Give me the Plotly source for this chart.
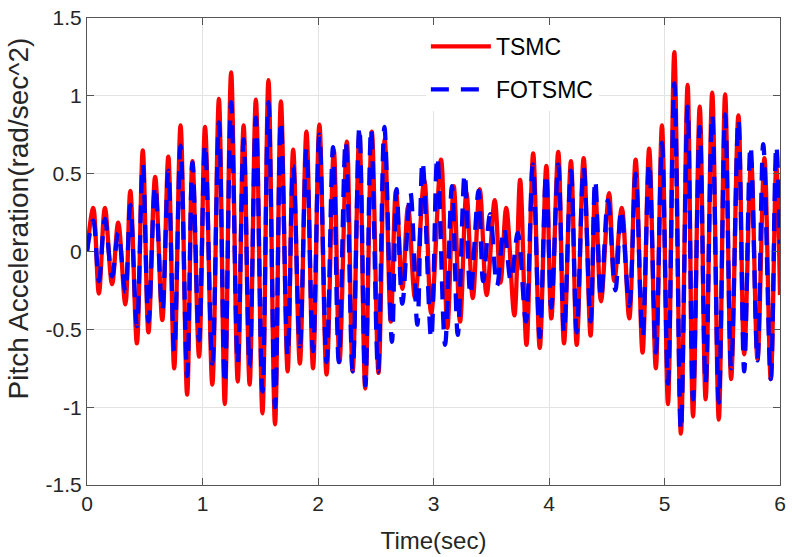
import plotly.graph_objects as go

# ---- data (extrema) ----
t_tsmc = [0.0, 0.054, 0.103, 0.155, 0.217, 0.27, 0.332, 0.375, 0.432, 0.483, 0.532, 0.59, 0.652, 0.704, 0.755, 0.81, 0.867, 0.913, 0.97, 1.022,
          1.085, 1.142, 1.193, 1.248, 1.305, 1.356, 1.408, 1.462, 1.519, 1.571, 1.628, 1.679, 1.737, 1.785, 1.843, 1.9, 1.957, 2.012,
          2.074, 2.137, 2.186, 2.25, 2.30, 2.358, 2.409, 2.466, 2.524, 2.578, 2.63, 2.675, 2.73, 2.78, 2.84, 2.92, 2.98, 3.065,
          3.12, 3.175, 3.23, 3.285, 3.34, 3.40, 3.46, 3.53, 3.58, 3.63, 3.70, 3.75, 3.805, 3.863, 3.92, 3.977,
          4.02, 4.08, 4.13, 4.19, 4.24, 4.30, 4.36, 4.40, 4.45, 4.52, 4.565, 4.63, 4.695, 4.75, 4.81, 4.867, 4.925, 4.978,
          5.03, 5.085, 5.142, 5.20, 5.247, 5.305, 5.356, 5.413, 5.47, 5.525, 5.577, 5.64, 5.69, 5.75, 5.805, 5.865, 5.92, 5.968, 6.0]
v_tsmc = [0.0, 0.28, -0.27, 0.28, -0.21, 0.185, -0.34, 0.39, -0.59, 0.65, -0.52, 0.48, -0.44, 0.61, -0.75, 0.81, -0.92, 0.58, -0.675, 0.80,
          -0.855, 0.98, -0.98, 1.15, -0.835, 0.81, -0.855, 0.975, -1.04, 1.10, -1.11, 0.965, -0.77, 0.655, -0.72, 0.77, -0.75, 0.815,
          -0.79, 0.65, -0.71, 0.705, -0.77, 0.76, -0.88, 0.77, -0.78, 0.72, -0.45, 0.39, -0.24, 0.29, -0.30, 0.46, -0.40, 0.59,
          -0.49, 0.42, -0.45, 0.38, -0.30, 0.40, -0.28, 0.33, -0.20, 0.28, -0.41, 0.46, -0.60, 0.63, -0.62, 0.55,
          -0.43, 0.64, -0.59, 0.58, -0.60, 0.60, -0.54, 0.40, -0.32, 0.375, -0.19, 0.28, -0.43, 0.59, -0.65, 0.66, -0.75, 0.81,
          -0.98, 1.28, -1.17, 1.07, -1.06, 0.93, -0.95, 1.02, -1.08, 1.01, -0.82, 0.875, -0.66, 0.58, -0.69, 0.60, -0.82, 0.55, -0.28]

t_fotsmc = [0.0, 0.054, 0.103, 0.155, 0.217, 0.27, 0.332, 0.375, 0.432, 0.483, 0.532, 0.59, 0.652, 0.704, 0.755, 0.81, 0.867, 0.913, 0.97, 1.022,
            1.085, 1.142, 1.193, 1.248, 1.305, 1.356, 1.408, 1.462, 1.519, 1.571, 1.628, 1.679, 1.737, 1.785, 1.843, 1.9, 1.957, 2.012,
            2.074, 2.13, 2.18, 2.24, 2.30, 2.358, 2.41, 2.46, 2.52, 2.575, 2.64, 2.68, 2.73, 2.80, 2.86, 2.905, 2.98, 3.033,
            3.10, 3.16, 3.21, 3.27, 3.32, 3.39, 3.43, 3.49, 3.55, 3.61, 3.67, 3.73, 3.80, 3.86, 3.92, 3.975,
            4.02, 4.08, 4.13, 4.19, 4.24, 4.30, 4.36, 4.40, 4.45, 4.51, 4.575, 4.625, 4.695, 4.75, 4.81, 4.867, 4.925, 4.978,
            5.03, 5.085, 5.142, 5.20, 5.247, 5.305, 5.356, 5.413, 5.47, 5.525, 5.577, 5.64, 5.69, 5.745, 5.805, 5.855, 5.92, 5.968, 6.0]
v_fotsmc = [0.0, 0.20, -0.19, 0.21, -0.16, 0.12, -0.26, 0.30, -0.48, 0.56, -0.45, 0.42, -0.38, 0.52, -0.64, 0.68, -0.80, 0.57, -0.57, 0.69,
            -0.72, 0.83, -0.85, 0.96, -0.72, 0.72, -0.74, 0.86, -0.90, 0.96, -1.0, 0.84, -0.67, 0.55, -0.61, 0.66, -0.64, 0.75,
            -0.71, 0.67, -0.71, 0.71, -0.77, 0.80, -0.86, 0.79, -0.77, 0.80, -0.58, 0.40, -0.335, 0.38, -0.47, 0.58, -0.56, 0.61,
            -0.60, 0.42, -0.535, 0.50, -0.28, 0.39, -0.19, 0.24, -0.22, 0.15, -0.19, 0.12, -0.45, 0.56, -0.55, 0.50,
            -0.36, 0.56, -0.52, 0.52, -0.52, 0.54, -0.45, 0.46, -0.30, 0.33, -0.25, 0.27, -0.35, 0.50, -0.55, 0.57, -0.65, 0.70,
            -0.85, 1.08, -1.15, 0.93, -0.95, 0.80, -0.85, 0.88, -0.97, 0.88, -0.75, 0.85, -0.77, 0.68, -0.70, 0.69, -0.82, 0.68, 0.05]

x_ticks = [0, 1, 2, 3, 4, 5, 6]
y_ticks = [-1.5, -1, -0.5, 0, 0.5, 1, 1.5]
y_tick_labels = ["-1.5", "-1", "-0.5", "0", "0.5", "1", "1.5"]

FONT = "Liberation Sans, Arial, sans-serif"

fig = go.Figure()
fig.add_trace(go.Scatter(x=t_tsmc, y=v_tsmc, mode="lines", name="TSMC",
                         line=dict(color="#ff0000", width=4.3, shape="spline", smoothing=1.0),
                         legendgroup="a"))
fig.add_trace(go.Scatter(x=t_fotsmc, y=v_fotsmc, mode="lines", name="FOTSMC",
                         line=dict(color="#0000ff", width=4.3, dash="18px,12px", shape="spline", smoothing=1.0),
                         legendgroup="b"))

axis_common = dict(showline=True, linecolor="#555555", linewidth=1, mirror="ticks",
                   ticks="inside", ticklen=7, tickcolor="#555555",
                   showgrid=True, gridcolor="#e3e3e3", gridwidth=1, zeroline=False,
                   tickfont=dict(family=FONT, size=21, color="#262626"))

fig.update_xaxes(range=[0, 6], tickvals=x_ticks, ticktext=[str(v) for v in x_ticks],
                 title=dict(text="Time(sec)", font=dict(family=FONT, size=24, color="#262626"), standoff=17),
                 **axis_common)
fig.update_yaxes(range=[-1.5, 1.5], tickvals=y_ticks, ticktext=y_tick_labels,
                 **axis_common)

fig.add_annotation(text="Pitch Acceleration(rad/sec^2)", textangle=-90,
                   xref="paper", yref="paper", x=-0.0987, y=0.57,
                   xanchor="center", yanchor="middle", showarrow=False,
                   font=dict(family=FONT, size=28, color="#262626"))

fig.update_layout(
    width=792, height=557,
    margin=dict(l=87, r=6, t=13, b=72),
    paper_bgcolor="white", plot_bgcolor="white",
    showlegend=True,
    legend=dict(x=0.489, y=0.985, xanchor="left", yanchor="top",
                bgcolor="white", borderwidth=0, itemwidth=60,
                font=dict(family=FONT, size=23, color="#000000"),
                tracegroupgap=10, traceorder="grouped"),
)

fig.write_html("out.html")
